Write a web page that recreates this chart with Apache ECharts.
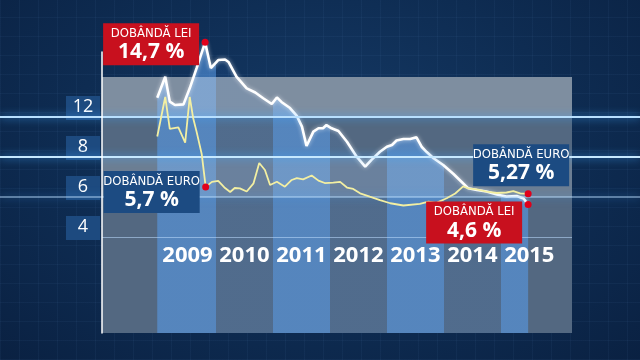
<!DOCTYPE html>
<html>
<head>
<meta charset="utf-8">
<script src="https://cdn.jsdelivr.net/npm/echarts@6/dist/echarts.min.js"></script>
<style>
html,body{margin:0;padding:0;background:#0c2548;}
#c{width:640px;height:360px;
background:
 repeating-linear-gradient(0deg, rgba(120,170,230,0.05) 0 1px, transparent 1px 19px),
 repeating-linear-gradient(90deg, rgba(120,170,230,0.05) 0 1px, transparent 1px 19px),
 radial-gradient(ellipse at 50% 40%, #153a66 0%, #0e2c52 55%, #0a2142 100%);}
</style>
</head>
<body>
<div id="c"></div>
<script>
// ---- data ----
const leiTime = [2008.97, 2009.11, 2009.19, 2009.28, 2009.43, 2009.54, 2009.66, 2009.81, 2009.91, 2010.04, 2010.16, 2010.22, 2010.36, 2010.54, 2010.69, 2010.83, 2010.98, 2011.07, 2011.15, 2011.30, 2011.42, 2011.51, 2011.59, 2011.71, 2011.80, 2011.88, 2011.94, 2012.03, 2012.15, 2012.30, 2012.47, 2012.62, 2012.73, 2012.88, 2013.00, 2013.09, 2013.17, 2013.29, 2013.41, 2013.52, 2013.61, 2013.70, 2013.82, 2013.99, 2014.17, 2014.31, 2014.43, 2014.58, 2014.75, 2014.93, 2015.10, 2015.28, 2015.40, 2015.48];
const leiRate = [11.25, 12.56, 11.01, 10.80, 10.84, 11.84, 13.09, 14.7, 13.10, 13.60, 13.63, 13.48, 12.56, 11.84, 11.58, 11.22, 10.86, 11.27, 10.99, 10.61, 10.12, 9.45, 8.25, 9.14, 9.35, 9.35, 9.55, 9.35, 9.18, 8.51, 7.58, 6.96, 7.38, 7.89, 8.20, 8.31, 8.59, 8.68, 8.68, 8.79, 8.20, 7.87, 7.48, 7.06, 6.50, 6.02, 5.61, 5.51, 5.41, 5.23, 5.10, 5.13, 4.98, 4.6];
const euroTime = [2008.97, 2009.11, 2009.19, 2009.34, 2009.46, 2009.54, 2009.60, 2009.66, 2009.75, 2009.82, 2009.93, 2010.04, 2010.16, 2010.25, 2010.33, 2010.42, 2010.54, 2010.66, 2010.76, 2010.86, 2010.95, 2011.07, 2011.21, 2011.33, 2011.42, 2011.53, 2011.68, 2011.80, 2011.91, 2012.06, 2012.18, 2012.30, 2012.41, 2012.53, 2012.70, 2012.88, 2013.06, 2013.29, 2013.58, 2013.73, 2013.87, 2014.05, 2014.20, 2014.34, 2014.43, 2014.58, 2014.75, 2014.93, 2015.10, 2015.22, 2015.34, 2015.48];
const euroRate = [8.84, 11.30, 9.31, 9.40, 8.46, 11.30, 9.99, 9.14, 7.75, 5.7, 6.01, 6.07, 5.63, 5.38, 5.63, 5.61, 5.41, 5.92, 7.19, 6.75, 5.82, 6.02, 5.71, 6.13, 6.24, 6.17, 6.41, 6.09, 5.94, 5.96, 6.01, 5.66, 5.57, 5.30, 5.09, 4.88, 4.68, 4.54, 4.64, 4.78, 4.70, 4.99, 5.29, 5.73, 5.61, 5.55, 5.41, 5.32, 5.35, 5.44, 5.30, 5.27];
const years = [2009, 2010, 2011, 2012, 2013, 2014, 2015];
const tickLabels = ['4', '6', '8', '12'];
const leiTitle = 'DOBÂNDĂ LEI';
const euroTitle = 'DOBÂNDĂ EURO';

// ---- build ----
const zip = (a, b) => a.map((t, i) => [t, b[i]]);
const leiData = zip(leiTime, leiRate);
const euroData = zip(euroTime, euroRate);
const peakIdx = leiRate.indexOf(Math.max(...leiRate));
const euroDropIdx = euroRate.indexOf(5.7);
const fmt = v => String(v).replace('.', ',') + ' %';

const RED = '#c8101e', BLUE = '#1c4b82';
const colOdd = 'rgba(87,153,229,0.86)', colEven = 'rgba(60,140,240,0.15)';
const t0 = leiTime[0], t1 = leiTime[leiTime.length - 1];
const bounds = [t0].concat(years.slice(1)).concat([t1]);
const stops = [];
for (let k = 0; k < bounds.length - 1; k++) {
  const c = k % 2 === 0 ? colOdd : colEven;
  stops.push({offset: (bounds[k] - t0) / (t1 - t0), color: c});
  stops.push({offset: (bounds[k + 1] - t0) / (t1 - t0), color: c});
}

const FONT = "'Open Sans', Roboto, sans-serif";
const NARROW = "'DejaVu Sans Condensed', 'Liberation Sans Narrow', Roboto, sans-serif";
function annot(title, value, bg, pos, dist, off) {
  return {
    show: true, position: pos, distance: dist, offset: off,
    formatter: '{a|' + title + '}\n{b|' + fmt(value) + '}',
    backgroundColor: bg, padding: [3, 6, 2, 6], width: 84,
    rich: {
      a: {color: '#fff', fontFamily: NARROW, fontSize: 13, lineHeight: 15, align: 'center', width: 84},
      b: {color: '#fff', fontFamily: FONT, fontWeight: 'bold', fontSize: 21, lineHeight: 22, align: 'center', width: 84}
    }
  };
}
const dot = {symbol: 'circle', symbolSize: 7, itemStyle: {color: '#e0001a'}};

const hiddenX = i => ({type: 'value', gridIndex: i, show: false, min: 0, max: 1});

const option = {
  backgroundColor: 'transparent',
  animation: false,
  grid: [
    {left: 102, right: 68, top: 21.5, bottom: 27},                                 // data
    {left: 102, right: 68, top: 77, bottom: 27, show: true, backgroundColor: '#536881', borderWidth: 0, z: 0}, // panel
    {left: 102, right: 68, top: 77, bottom: 123},                                  // tick labels
    {left: 0, right: 0, top: 117, bottom: 163},                                     // glow lines
    {left: 102, right: 68, top: 52, bottom: 27}                                     // white axis line
  ],
  xAxis: [
    {type: 'value', gridIndex: 0, min: 2008, max: 2016.25, interval: 1, offset: -77, z: 8,
     axisLine: {show: false}, axisTick: {show: false}, splitLine: {show: false},
     axisLabel: {color: '#fff', fontFamily: FONT, fontWeight: 'bold', fontSize: 22, margin: 0,
       verticalAlign: 'middle', padding: [0, 0, 0, 57],
       formatter: v => years.indexOf(v) >= 0 ? String(v) : ''}},
    hiddenX(1), hiddenX(2), hiddenX(3), hiddenX(4)
  ],
  yAxis: [
    {type: 'value', gridIndex: 0, min: -3.4, max: 16, show: false},
    {type: 'value', gridIndex: 1, show: false, min: 0, max: 1},
    {type: 'category', gridIndex: 2, data: tickLabels.concat(['']), boundaryGap: false, z: 3,
     axisLine: {show: false}, axisTick: {show: false},
     axisLabel: {margin: 2, verticalAlign: 'bottom',
       formatter: v => v ? '{b|' + v + '}' : '',
       rich: {b: {color: '#fff', fontFamily: FONT, fontSize: 18, lineHeight: 18, width: 22, align: 'center',
                  backgroundColor: '#1d4a7f', padding: [2, 6, 4, 6]}}},
     splitLine: {show: true, lineStyle: {width: 1.2,
       color: ['rgba(190,220,255,0.55)', 'rgba(0,0,0,0)', 'rgba(0,0,0,0)', 'rgba(0,0,0,0)', 'rgba(0,0,0,0)']}},
     splitArea: {show: true, areaStyle: {
       color: ['rgba(255,255,255,0)', 'rgba(255,255,255,0.15)', 'rgba(255,255,255,0)', 'rgba(255,255,255,0.25)']}}},
    {type: 'category', gridIndex: 3, data: ['a', 'b', 'c'], boundaryGap: false, z: 4,
     axisLine: {show: false}, axisTick: {show: false}, axisLabel: {show: false},
     splitLine: {show: true, lineStyle: {width: 2, shadowBlur: 9, shadowColor: 'rgba(70,170,255,1)',
       color: ['rgba(190,225,255,0.45)', '#c6e9ff', '#b8e0ff']}}},
    {type: 'value', gridIndex: 4, min: 0, max: 1, z: 6,
     axisLine: {show: true, lineStyle: {color: '#fff', width: 1.5}},
     axisTick: {show: false}, axisLabel: {show: false}, splitLine: {show: false}}
  ],
  series: [
    {type: 'line', name: 'lei', xAxisIndex: 0, yAxisIndex: 0, data: leiData, z: 2,
     showSymbol: false,
     lineStyle: {color: '#ffffff', width: 2.6, shadowBlur: 4, shadowColor: 'rgba(255,255,255,0.6)'},
     areaStyle: {origin: 'start', color: new echarts.graphic.LinearGradient(0, 0, 1, 0, stops)},
     markPoint: Object.assign({}, dot, {z: 20, data: [
       {coord: leiData[peakIdx], label: annot(leiTitle, leiRate[peakIdx], RED, 'left', 2.5, [0, 2])},
       {coord: leiData[leiData.length - 1], label: annot(leiTitle, leiRate[leiRate.length - 1], RED, 'left', 2.5, [0, 18])}
     ]})},
    {type: 'line', name: 'euro', xAxisIndex: 0, yAxisIndex: 0, data: euroData, z: 7,
     showSymbol: false,
     lineStyle: {color: '#f3efa2', width: 1.8},
     markPoint: Object.assign({}, dot, {z: 20, data: [
       {coord: euroData[euroDropIdx], label: annot(euroTitle, euroRate[euroDropIdx], BLUE, 'left', 2.5, [0, 5])},
       {coord: euroData[euroData.length - 1], label: annot(euroTitle, euroRate[euroRate.length - 1], BLUE, 'top', 4, [-7, 0])}
     ]})}
  ]
};
const chart = echarts.init(document.getElementById('c'), null, {renderer: 'canvas'});
chart.setOption(option);
</script>
</body>
</html>
